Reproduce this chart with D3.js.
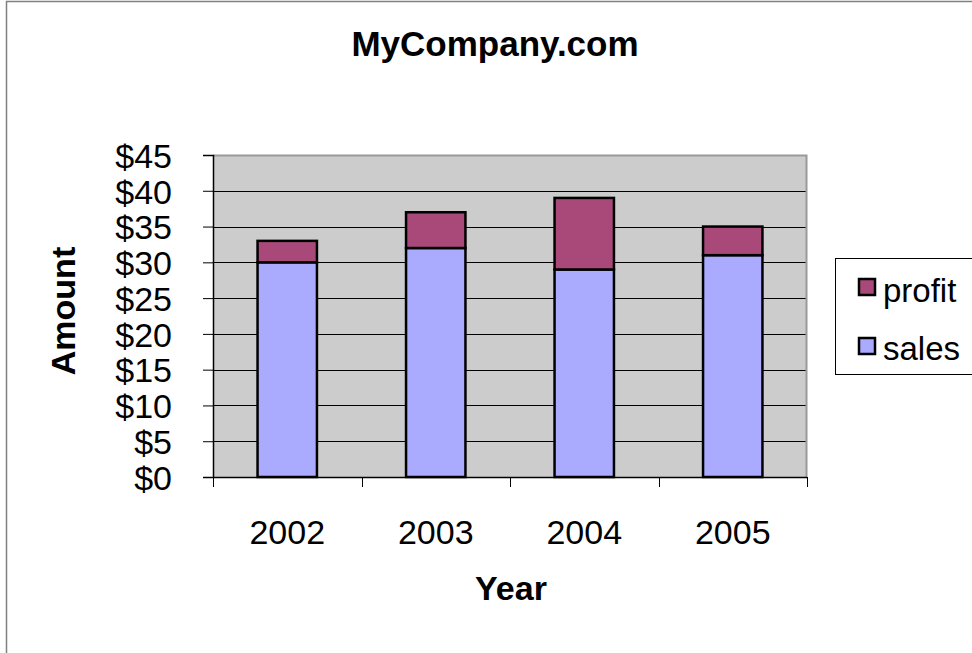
<!DOCTYPE html>
<html>
<head>
<meta charset="utf-8">
<script src="https://cdn.jsdelivr.net/npm/d3@7"></script>
<style>
  body { margin: 0; background: #fff; }
  text { font-family: "Liberation Sans", Arial, sans-serif; fill: #000; }
</style>
</head>
<body>
<div id="chart"></div>
<script>
// chart data
const years = ["2002", "2003", "2004", "2005"];
const sales = [30, 32, 29, 31];
const profit = [3, 5, 10, 4];
const seriesNames = ["sales", "profit"];
const yTicks = [0, 5, 10, 15, 20, 25, 30, 35, 40, 45];

const width = 972, height = 653;
const plot = { left: 213, right: 807, top: 155, bottom: 477 };
const colors = { sales: "#AAAAFF", profit: "#A8497A" };

const svg = d3.select("#chart").append("svg")
  .attr("width", width)
  .attr("height", height);

// outer chart border
svg.append("rect")
  .attr("x", 6.5).attr("y", 1.5)
  .attr("width", 1000).attr("height", 1000)
  .attr("fill", "#fff")
  .attr("stroke", "#808080")
  .attr("stroke-width", 1.5);

const x = d3.scaleBand()
  .domain(years)
  .range([plot.left, plot.right])
  .paddingInner(0.6)
  .paddingOuter(0.3);

const y = d3.scaleLinear()
  .domain([0, 45])
  .range([plot.bottom, plot.top]);

// plot background
svg.append("rect")
  .attr("x", plot.left).attr("y", plot.top)
  .attr("width", plot.right - plot.left)
  .attr("height", plot.bottom - plot.top)
  .attr("fill", "#CCCCCC");

// gridlines
svg.append("g")
  .selectAll("line")
  .data(yTicks.filter(d => d > 0 && d < 45))
  .enter().append("line")
    .attr("x1", plot.left).attr("x2", plot.right)
    .attr("y1", d => Math.round(y(d)) + 0.5)
    .attr("y2", d => Math.round(y(d)) + 0.5)
    .attr("stroke", "#000")
    .attr("stroke-width", 1);

// plot top/right border
svg.append("path")
  .attr("d", `M${plot.left},${plot.top + 0.5} H${plot.right - 0.5} V${plot.bottom}`)
  .attr("fill", "none")
  .attr("stroke", "#999")
  .attr("stroke-width", 2);

// stacked bars
const stackData = years.map((yr, i) => ({ year: yr, sales: sales[i], profit: profit[i] }));
const stacked = d3.stack().keys(seriesNames)(stackData);

svg.append("g")
  .selectAll("g")
  .data(stacked)
  .enter().append("g")
    .attr("fill", d => colors[d.key])
  .selectAll("rect")
  .data(d => d)
  .enter().append("rect")
    .attr("x", d => x(d.data.year))
    .attr("y", d => y(d[1]))
    .attr("width", x.bandwidth())
    .attr("height", d => y(d[0]) - y(d[1]))
    .attr("stroke", "#000")
    .attr("stroke-width", 2.5);

// y axis
const axisY = d3.axisLeft(y)
  .tickValues(yTicks)
  .tickSize(10)
  .tickPadding(31)
  .tickFormat(d => "$" + d);

const leftAxis = svg.append("g")
  .attr("transform", `translate(${plot.left},0)`)
  .call(axisY);
leftAxis.select(".domain").attr("stroke", "#000").attr("stroke-width", 1.5);
leftAxis.selectAll(".tick line").attr("stroke", "#000");
leftAxis.selectAll("text")
  .style("font-size", "34px")
  .attr("dy", "0.36em");

// x axis: ticks on category boundaries
const boundaries = d3.range(years.length + 1).map(i => plot.left + i * (plot.right - plot.left) / years.length);
const bottomAxis = svg.append("g");
bottomAxis.append("line")
  .attr("x1", plot.left).attr("x2", plot.right)
  .attr("y1", plot.bottom + 0.5).attr("y2", plot.bottom + 0.5)
  .attr("stroke", "#000").attr("stroke-width", 1.5);
bottomAxis.selectAll(".tk")
  .data(boundaries)
  .enter().append("line")
    .attr("class", "tk")
    .attr("x1", d => Math.round(d) + 0.5).attr("x2", d => Math.round(d) + 0.5)
    .attr("y1", plot.bottom).attr("y2", plot.bottom + 10)
    .attr("stroke", "#000");
bottomAxis.selectAll("text")
  .data(years)
  .enter().append("text")
    .attr("x", d => x(d) + x.bandwidth() / 2)
    .attr("y", 544)
    .attr("text-anchor", "middle")
    .style("font-size", "34px")
    .text(d => d);

// titles
svg.append("text")
  .attr("x", 495).attr("y", 56)
  .attr("text-anchor", "middle")
  .style("font-size", "35px").style("font-weight", "bold")
  .text("MyCompany.com");

svg.append("text")
  .attr("x", 511).attr("y", 600)
  .attr("text-anchor", "middle")
  .style("font-size", "34px").style("font-weight", "bold")
  .text("Year");

svg.append("text")
  .attr("transform", `translate(75,311) rotate(-90)`)
  .attr("text-anchor", "middle")
  .style("font-size", "34px").style("font-weight", "bold")
  .text("Amount");

// legend
const legend = svg.append("g");
legend.append("rect")
  .attr("x", 835.5).attr("y", 258.5)
  .attr("width", 200).attr("height", 116)
  .attr("fill", "#fff")
  .attr("stroke", "#000")
  .attr("stroke-width", 1);

const legendItems = ["profit", "sales"];
legendItems.forEach((name, i) => {
  const top = 279 + i * 59;
  legend.append("rect")
    .attr("x", 859).attr("y", top)
    .attr("width", 16).attr("height", 16)
    .attr("fill", colors[name])
    .attr("stroke", "#000")
    .attr("stroke-width", 2.5);
  legend.append("text")
    .attr("x", 883).attr("y", 302 + i * 58)
    .style("font-size", "33px")
    .text(name);
});
</script>
</body>
</html>
